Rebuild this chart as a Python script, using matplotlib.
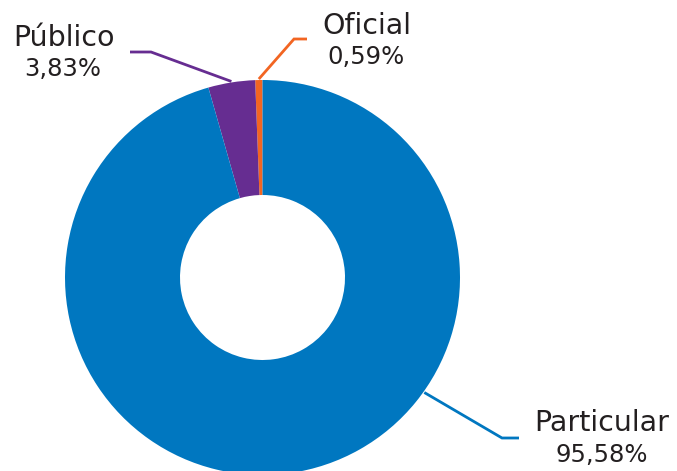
import numpy as np
import matplotlib
matplotlib.use("Agg")
import matplotlib.pyplot as plt

labels = ["Oficial", "Público", "Particular"]
values = [0.59, 3.83, 95.58]
pct_labels = ["0,59%", "3,83%", "95,58%"]
colors = ["#F26522", "#662D91", "#0077C0"]

W, H = 677, 471
fig = plt.figure(figsize=(W / 100, H / 100), dpi=100)
ax = fig.add_axes([0, 0, 1, 1])

cx, cy, R = 262.5, H - 277.5, 197.5
wedges, _ = ax.pie(values, colors=colors, startangle=90, counterclock=True,
                   center=(cx, cy), radius=R, frame=True,
                   wedgeprops=dict(width=R - 82.5, linewidth=0))
ax.set_xlim(0, W)
ax.set_ylim(0, H)
ax.set_aspect("equal")
ax.axis("off")

font = "DejaVu Sans"
tc = "#231f20"

anchors = {
    "Oficial": dict(ang=None, elbow=(294, H - 39), end=(307, H - 39),
                    txt=(367, H - 34), pct=(366, H - 64)),
    "Público": dict(ang=None, elbow=(151, H - 52), end=(130, H - 52),
                    txt=(64.5, H - 46), pct=(63, H - 76)),
    "Particular": dict(ang=-35.4, elbow=(502, H - 438), end=(519, H - 438),
                       txt=(602, H - 431), pct=(602, H - 462)),
}

for w, lab, pl, col in zip(wedges, labels, pct_labels, colors):
    a = anchors[lab]
    ang = a["ang"] if a["ang"] is not None else (w.theta1 + w.theta2) / 2
    r = R + 1
    sx = cx + r * np.cos(np.radians(ang))
    sy = cy + r * np.sin(np.radians(ang))
    ex, ey = a["elbow"]
    fx, fy = a["end"]
    ax.plot([sx, ex, fx], [sy, ey, fy], color=col, lw=2, solid_joinstyle="miter",
            solid_capstyle="butt", clip_on=False)
    ax.text(a["txt"][0], a["txt"][1], lab, ha="center", va="baseline",
            fontsize=20.5, family=font, color=tc)
    ax.text(a["pct"][0], a["pct"][1], pl, ha="center", va="baseline",
            fontsize=17.5, family=font, color=tc)

fig.savefig("out.png", dpi=100)
